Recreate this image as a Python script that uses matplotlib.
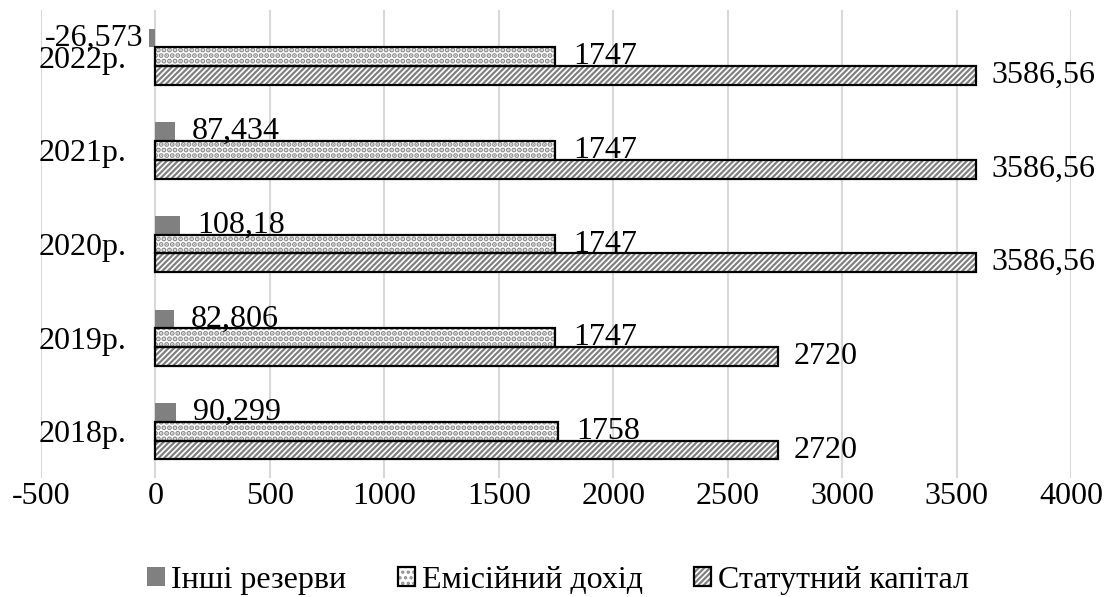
import matplotlib.pyplot as plt
import numpy as np
from matplotlib.legend_handler import HandlerTuple

plt.rcParams['font.family'] = ['Liberation Serif', 'DejaVu Serif']
plt.rcParams['font.size'] = 23
plt.rcParams['axes.unicode_minus'] = False
plt.rcParams['hatch.linewidth'] = 1.6

years = ['2018р.', '2019р.', '2020р.', '2021р.', '2022р.']
other_reserves = [90.299, 82.806, 108.18, 87.434, -26.573]
share_premium = [1758, 1747, 1747, 1747, 1747]
share_capital = [2720, 2720, 3586.56, 3586.56, 3586.56]

names = ['Інші резерви', 'Емісійний дохід', 'Статутний капітал']


def fmt(v):
    s = f'{v:g}'
    return s.replace('.', ',')


fig = plt.figure(figsize=(11.16, 5.97), dpi=100)
ax = fig.add_axes([0.0367, 0.199, 0.9230, 0.7843])

y = np.arange(len(years))
h = 0.2
grey = '#808080'

b1 = ax.barh(y + h, other_reserves, h, color=grey, edgecolor='none', zorder=3)

# hatched fill first, then a plain black outline on top
with plt.rc_context({'hatch.linewidth': 2.6}):
    b2f = ax.barh(y, share_premium, h, color='white', edgecolor='#8c8c8c', hatch='...',
                  linewidth=0, zorder=3)
b2e = ax.barh(y, share_premium, h, fill=False, edgecolor='black', linewidth=1.6, zorder=4)
b3f = ax.barh(y - h, share_capital, h, color='white', edgecolor=grey, hatch='//////',
              linewidth=0, zorder=3)
b3e = ax.barh(y - h, share_capital, h, fill=False, edgecolor='black', linewidth=1.6, zorder=4)

# value labels
for yi, v in zip(y, other_reserves):
    if v < 0:
        ax.annotate(fmt(v), (v, yi + h), xytext=(-4, 0), textcoords='offset points',
                    ha='right', va='center', zorder=5)
    else:
        ax.annotate(fmt(v), (v, yi + h), xytext=(12, 0), textcoords='offset points',
                    ha='left', va='center', zorder=5)
for yi, v in zip(y, share_premium):
    ax.annotate(fmt(v), (v, yi), xytext=(13, 0), textcoords='offset points',
                ha='left', va='center', zorder=5)
for yi, v in zip(y, share_capital):
    ax.annotate(fmt(v), (v, yi - h), xytext=(11, 0), textcoords='offset points',
                ha='left', va='center', zorder=5)

ax.set_xlim(-500, 4000)
ax.set_ylim(-0.5, 4.5)
ax.set_xticks(np.arange(-500, 4001, 500))
ax.set_yticks(y, years)
ax.grid(axis='x', color='#d9d9d9', linewidth=1.5, zorder=0)
ax.set_axisbelow(True)

for s in ['top', 'right', 'bottom']:
    ax.spines[s].set_visible(False)
ax.spines['left'].set_position(('data', 0))
ax.spines['left'].set_visible(False)
ax.tick_params(axis='both', length=0)
ax.tick_params(axis='x', pad=3)
ax.tick_params(axis='y', pad=21)

fig.legend([b1[0], (b2f[0], b2e[0]), (b3f[0], b3e[0])], names,
           handler_map={tuple: HandlerTuple(ndivide=1)},
           loc='center', bbox_to_anchor=(0.5, 0.028), ncol=3, frameon=False,
           handlelength=0.55, handleheight=0.55, handletextpad=0.2,
           columnspacing=1.6, borderpad=0)

fig.savefig('out.png', dpi=100)
